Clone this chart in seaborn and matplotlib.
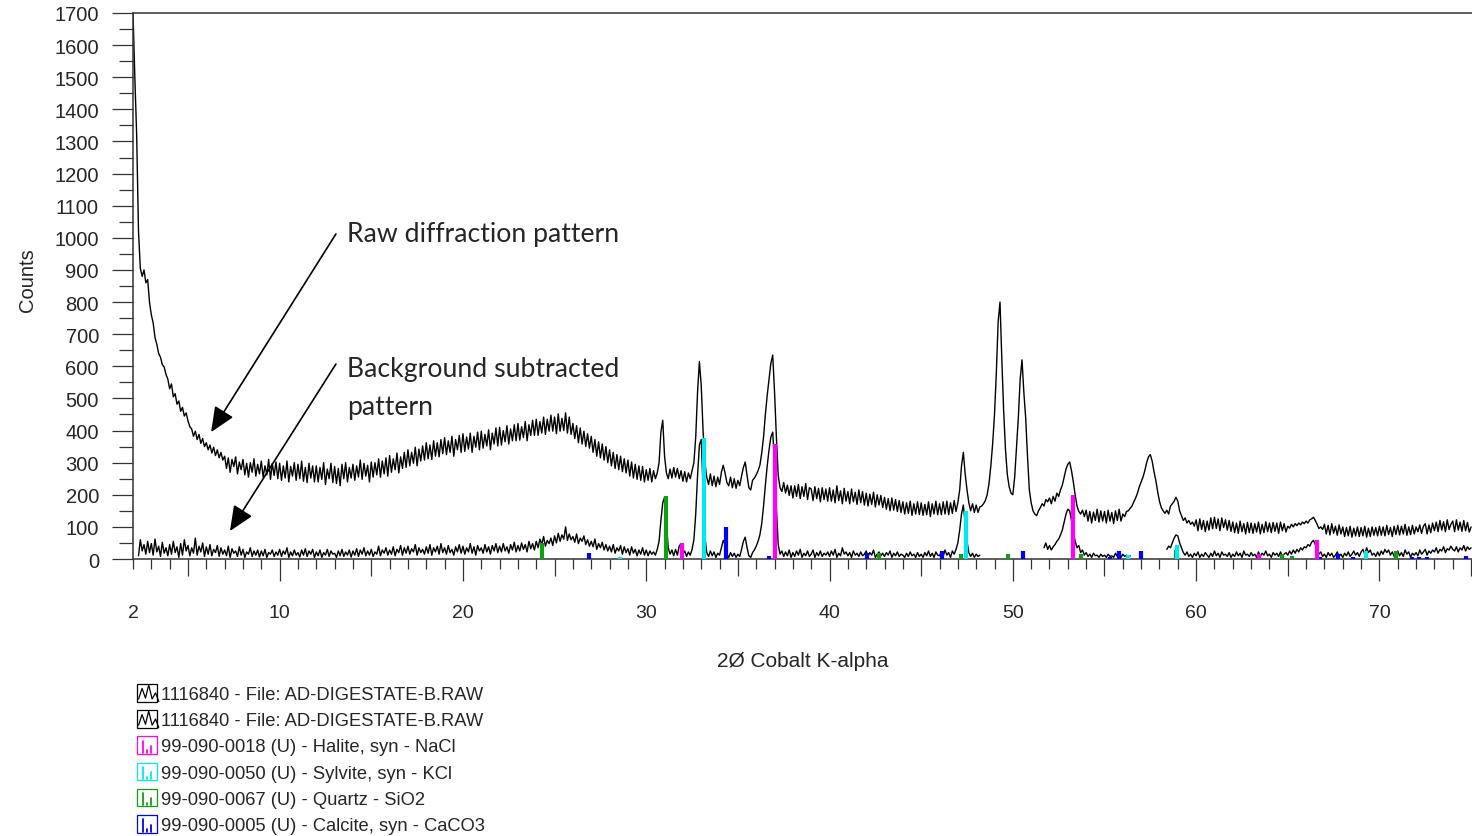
import numpy as np
import pandas as pd
import seaborn as sns
import matplotlib.pyplot as plt
from matplotlib.legend_handler import HandlerBase
from matplotlib.patches import Rectangle
from matplotlib.lines import Line2D
from matplotlib.transforms import Bbox

# 2-theta grid of the scan (0.1 deg steps, 2..75)
two_theta = np.round(np.arange(2.0, 75.001, 0.1), 1)

# raw diffraction pattern, one row per degree (.0 .. .9)
raw_counts = [
    1700, 1500, 1320, 1020, 905, 880, 900, 860, 870, 800,        # 2
    760, 735, 690, 668, 640, 628, 605, 598, 575, 560,            # 3
    530, 545, 505, 515, 482, 492, 460, 472, 445, 455,            # 4
    430, 412, 405, 382, 398, 372, 388, 360, 375, 350,            # 5
    362, 340, 355, 330, 348, 322, 340, 315, 332, 308,            # 6
    320, 282, 315, 270, 310, 288, 318, 265, 302, 278,            # 7
    310, 262, 298, 255, 300, 270, 312, 258, 295, 265,            # 8
    305, 255, 290, 262, 310, 248, 298, 260, 302, 250,            # 9
    298, 245, 290, 252, 305, 240, 288, 258, 300, 245,            # 10
    295, 250, 305, 242, 285, 238, 298, 252, 290, 240,            # 11
    290, 240, 285, 248, 300, 232, 280, 250, 298, 238,            # 12
    288, 235, 282, 228, 295, 250, 300, 240, 285, 252,            # 13
    295, 245, 290, 255, 308, 248, 298, 258, 292, 240,            # 14
    302, 255, 300, 262, 312, 255, 305, 265, 315, 258,            # 15
    322, 270, 312, 278, 330, 268, 318, 282, 332, 285,            # 16
    340, 290, 332, 298, 348, 290, 342, 305, 352, 308,            # 17
    362, 312, 355, 310, 368, 320, 362, 318, 372, 328,            # 18
    378, 325, 368, 332, 382, 320, 372, 340, 385, 332,            # 19
    390, 335, 380, 342, 392, 332, 382, 348, 395, 340,            # 20
    398, 345, 388, 352, 402, 340, 392, 358, 408, 352,            # 21
    410, 355, 400, 365, 415, 358, 405, 368, 418, 368,            # 22
    422, 370, 412, 378, 428, 368, 418, 385, 432, 385,            # 23
    435, 385, 428, 392, 442, 388, 435, 398, 448, 398,            # 24
    442, 390, 452, 398, 438, 400, 455, 392, 442, 388,            # 25
    422, 375, 415, 362, 408, 358, 398, 350, 390, 345,            # 26
    382, 332, 372, 320, 365, 315, 358, 308, 350, 300,            # 27
    340, 290, 332, 282, 325, 278, 320, 272, 312, 268,            # 28
    308, 258, 302, 252, 295, 248, 290, 245, 288, 240,            # 29
    278, 245, 282, 240, 275, 250, 268, 300, 395, 432,            # 30
    320, 268, 250, 280, 252, 285, 255, 282, 250, 275,            # 31
    242, 272, 240, 268, 250, 275, 300, 380, 520, 615,            # 32
    540, 400, 300, 255, 232, 265, 228, 258, 225, 255,            # 33
    232, 270, 292, 268, 238, 228, 255, 222, 250, 220,            # 34
    245, 228, 258, 285, 302, 260, 222, 215, 245, 252,            # 35
    262, 275, 292, 330, 380, 450, 510, 560, 610, 635,            # 36
    520, 380, 260, 222, 210, 238, 205, 230, 198, 228,            # 37
    190, 228, 195, 232, 188, 225, 195, 235, 185, 222,            # 38
    218, 182, 225, 188, 220, 178, 222, 185, 218, 180,            # 39
    222, 180, 215, 175, 228, 182, 212, 172, 220, 180,            # 40
    210, 172, 218, 178, 208, 170, 215, 175, 210, 168,            # 41
    205, 165, 202, 170, 208, 162, 200, 168, 198, 160,            # 42
    192, 155, 188, 150, 190, 152, 185, 148, 182, 145,            # 43
    178, 140, 175, 142, 180, 136, 172, 140, 178, 138,            # 44
    175, 136, 170, 138, 178, 132, 172, 140, 180, 138,            # 45
    172, 138, 178, 140, 180, 138, 175, 142, 182, 148,            # 46
    175, 215, 290, 332, 265, 215, 175, 150, 172, 145,            # 47
    168, 145, 162, 165, 172, 182, 200, 235, 290, 360,            # 48
    450, 580, 740, 800, 620, 460, 340, 262, 225, 205,            # 49
    200, 255, 350, 440, 560, 620, 520, 440, 320, 215,            # 50
    175, 150, 140, 135, 150, 160, 172, 165, 185, 178,            # 51
    190, 172, 195, 180, 205, 195, 215, 230, 255, 280,            # 52
    295, 302, 275, 240, 200, 165, 148, 140, 152, 132,            # 53
    152, 118, 148, 112, 146, 120, 155, 115, 150, 118,            # 54
    148, 112, 152, 118, 145, 110, 150, 120, 155, 118,            # 55
    140, 132, 148, 150, 158, 165, 178, 190, 205, 225,            # 56
    240, 255, 275, 300, 318, 325, 305, 272, 245, 210,            # 57
    180, 160, 150, 142, 152, 140, 165, 172, 180, 192,            # 58
    180, 150, 135, 120, 128, 112, 120, 108, 115, 102,            # 59
    122, 88, 125, 92, 120, 85, 118, 90, 128, 94,                 # 60
    130, 95, 125, 88, 128, 98, 122, 90, 120, 86,                 # 61
    115, 82, 112, 80, 118, 85, 110, 78, 114, 82,                 # 62
    112, 80, 110, 84, 115, 78, 108, 82, 116, 85,                 # 63
    112, 82, 114, 86, 112, 80, 115, 88, 110, 84,                 # 64
    102, 96, 108, 100, 110, 104, 112, 106, 115, 110,             # 65
    118, 112, 122, 125, 130, 120, 108, 95, 100, 92,              # 66
    108, 78, 105, 75, 110, 80, 102, 74, 106, 78,                 # 67
    100, 70, 98, 72, 102, 68, 96, 72, 100, 70,                   # 68
    98, 72, 102, 68, 96, 70, 100, 74, 98, 72,                    # 69
    102, 74, 100, 72, 105, 76, 98, 70, 102, 76,                  # 70
    105, 75, 102, 78, 108, 74, 100, 76, 105, 78,                 # 71
    100, 85, 106, 80, 102, 110, 78, 106, 82, 112,                # 72
    88, 115, 85, 120, 90, 116, 85, 122, 92, 108,                 # 73
    118, 85, 122, 90, 115, 86, 120, 88, 114, 84,                 # 74
    100,                                                         # 75
]

nan = np.nan
# background subtracted pattern (gaps where the software left it out)
sub_counts = [
    nan, nan, nan, 10, 60, 25, 45, 15, 55, 20,                   # 2
    48, 12, 62, 22, 40, 8, 52, 18, 35, 10,                       # 3
    45, 15, 55, 20, 38, 5, 48, 12, 60, 25,                       # 4
    42, 10, 35, 18, 65, 12, 40, 22, 50, 8,                       # 5
    38, 15, 45, 10, 30, 20, 42, 8, 35, 15,                       # 6
    28, 10, 40, 5, 32, 18, 25, 8, 38, 12,                        # 7
    30, 5, 22, 15, 35, 8, 25, 12, 28, 6,                         # 8
    25, 10, 30, 5, 20, 15, 28, 8, 22, 12,                        # 9
    30, 8, 25, 15, 35, 5, 22, 10, 28, 12,                        # 10
    20, 6, 28, 12, 32, 8, 25, 15, 30, 5,                         # 11
    22, 10, 28, 5, 20, 12, 30, 8, 25, 15,                        # 12
    18, 5, 25, 10, 30, 8, 22, 12, 28, 6,                         # 13
    25, 12, 32, 8, 28, 15, 35, 10, 25, 12,                       # 14
    30, 8, 22, 15, 40, 10, 28, 18, 35, 12,                       # 15
    28, 15, 38, 10, 30, 20, 42, 12, 35, 18,                      # 16
    40, 15, 32, 22, 45, 12, 35, 20, 30, 15,                      # 17
    38, 18, 45, 12, 35, 22, 40, 15, 48, 20,                      # 18
    35, 15, 42, 20, 30, 12, 38, 22, 45, 18,                      # 19
    40, 15, 35, 22, 48, 18, 38, 12, 42, 25,                      # 20
    35, 18, 45, 22, 38, 15, 42, 25, 48, 20,                      # 21
    40, 22, 48, 25, 38, 18, 45, 28, 52, 22,                      # 22
    42, 25, 50, 30, 45, 22, 55, 32, 48, 28,                      # 23
    55, 35, 62, 45, 70, 40, 58, 48, 65, 42,                      # 24
    72, 50, 80, 55, 75, 62, 100, 58, 78, 60,                     # 25
    70, 52, 78, 48, 65, 55, 72, 45, 60, 40,                      # 26
    55, 38, 62, 30, 48, 35, 52, 28, 45, 25,                      # 27
    40, 22, 45, 18, 35, 25, 42, 15, 38, 20,                      # 28
    32, 12, 38, 18, 30, 10, 28, 15, 35, 12,                      # 29
    28, 10, 25, 15, 22, 12, 30, 55, 120, 175,                    # 30
    192, 110, 35, 15, 28, 10, 30, 12, 40, 48,                    # 31
    15, 25, 8, 22, 12, 30, 60, 140, 260, 355,                    # 32
    372, 220, 70, 20, 8, 25, 10, 22, 5, 18,                      # 33
    12, 35, 58, 45, 15, 5, 20, 8, 18, 5,                         # 34
    15, 8, 30, 55, 68, 35, 10, 5, 20, 28,                        # 35
    40, 55, 75, 110, 165, 230, 290, 340, 380, 395,               # 36
    300, 160, 45, 15, 25, 8, 22, 10, 28, 5,                      # 37
    20, 8, 25, 12, 30, 5, 18, 10, 25, 8,                         # 38
    15, 28, 5, 20, 10, 25, 8, 18, 12, 22,                        # 39
    8, 25, 12, 30, 5, 18, 10, 35, 15, 22,                        # 40
    10, 20, 5, 25, 12, 18, 8, 22, 10, 15,                        # 41
    25, 8, 20, 12, 28, 5, 15, 22, 10, 18,                        # 42
    8, 20, 12, 25, 5, 18, 10, 22, 8, 15,                         # 43
    12, 5, 18, 8, 22, 10, 15, 5, 20, 8,                          # 44
    15, 5, 20, 10, 25, 8, 18, 5, 22, 12,                         # 45
    10, 22, 8, 28, 12, 20, 5, 25, 15, 30,                        # 46
    50, 90, 140, 168, 110, 55, 20, 8, 18, 5,                     # 47
    15, 8, 12, nan, nan, nan, nan, nan, nan, nan,                # 48
    nan, nan, nan, nan, nan, nan, nan, nan, nan, nan,            # 49
    nan, nan, nan, nan, nan, nan, nan, nan, nan, nan,            # 50
    nan, nan, nan, nan, nan, nan, nan, 35, 50, 30,               # 51
    42, 28, 38, 45, 55, 62, 75, 90, 115, 140,                    # 52
    155, 150, 120, 85, 55, 35, 42, 20, 28, 12,                   # 53
    20, 8, 15, 5, 18, 10, 12, 5, 15, 8,                          # 54
    12, 5, 15, 8, 10, 5, 18, 8, 12, 5,                           # 55
    15, 8, 12, 5, 10, nan, nan, nan, nan, nan,                   # 56
    nan, nan, nan, nan, nan, nan, nan, nan, nan, nan,            # 57
    nan, nan, nan, nan, 30, 40, 35, 50, 65, 75,                  # 58
    72, 50, 35, 20, 12, 22, 8, 15, 5, 18,                        # 59
    10, 22, 5, 15, 8, 20, 12, 5, 18, 8,                          # 60
    25, 10, 18, 5, 22, 12, 15, 8, 20, 5,                         # 61
    15, 8, 22, 10, 18, 5, 25, 12, 15, 8,                         # 62
    20, 10, 15, 5, 22, 8, 18, 12, 25, 10,                        # 63
    15, 5, 20, 12, 18, 8, 22, 10, 15, 20,                        # 64
    12, 25, 15, 28, 18, 30, 22, 35, 28, 38,                      # 65
    35, 45, 40, 52, 58, 45, 30, 15, 22, 8,                       # 66
    15, 5, 20, 10, 18, 5, 12, 22, 8, 15,                         # 67
    5, 18, 10, 22, 8, 15, 25, 12, 20, 8,                         # 68
    22, 30, 15, 35, 20, 28, 12, 18, 8, 22,                       # 69
    10, 25, 15, 30, 20, 28, 12, 22, 8, 18,                       # 70
    25, 10, 20, 8, 28, 15, 22, 5, 18, 12,                        # 71
    20, 10, 28, 15, 22, 30, 12, 25, 18, 28,                      # 72
    22, 35, 18, 30, 25, 38, 20, 32, 28, 40,                      # 73
    30, 25, 38, 22, 35, 28, 42, 25, 38, 30,                      # 74
    35,                                                          # 75
]

# reference stick patterns (position, intensity)
halite_pos = [31.93, 37.02, 53.3, 63.41, 66.61]
halite_int = [50, 357, 200, 15, 58]
sylvite_pos = [28.57, 33.15, 47.43, 56.3, 58.97, 69.27]
sylvite_int = [6, 377, 148, 12, 45, 25]
quartz_pos = [24.33, 31.09, 42.71, 47.16, 49.72, 53.74, 58.92, 64.67,
              65.21, 70.89]
quartz_int = [50, 196, 20, 15, 15, 15, 29, 15, 9, 26]
calcite_pos = [26.89, 34.35, 36.71, 42.06, 46.15, 50.54, 55.3, 55.78,
               56.99, 66.76, 67.76, 68.57, 71.79, 72.17, 72.59, 74.72]
calcite_int = [18, 100, 8, 18, 26, 25, 5, 25, 25, 5, 15, 5, 5, 5, 5, 8]

legend_labels = [
    "1116840 - File: AD-DIGESTATE-B.RAW",
    "1116840 - File: AD-DIGESTATE-B.RAW",
    "99-090-0018 (U) - Halite, syn - NaCl",
    "99-090-0050 (U) - Sylvite, syn - KCl",
    "99-090-0067 (U) - Quartz - SiO2",
    "99-090-0005 (U) - Calcite, syn - CaCO3",
]

assert len(raw_counts) == len(two_theta) == len(sub_counts)

MAGENTA, CYAN, GREEN, BLUE = "#ff00ff", "#00e8f0", "#109f10", "#0000ff"


class PatternIcon:
    def __init__(self, color, kind):
        self.color = color
        self.kind = kind


class IconHandler(HandlerBase):
    def create_artists(self, legend, orig_handle, xdescent, ydescent,
                       width, height, fontsize, trans):
        x0, y0 = -xdescent, -ydescent
        c = orig_handle.color
        arts = [Rectangle((x0, y0), width, height, fill=False, edgecolor=c,
                          linewidth=0.9, transform=trans)]
        if orig_handle.kind == "scan":
            fx = [0.08, 0.25, 0.42, 0.58, 0.75, 0.92, 1.08]
            fy = [0.15, 0.75, 0.2, 0.95, 0.15, 0.5, 0.0]
            arts.append(Line2D([x0 + f * width for f in fx],
                               [y0 + f * height for f in fy],
                               color="black", lw=0.9, transform=trans))
        else:
            for sx, sh in [(0.3, 0.75), (0.5, 0.2), (0.7, 0.45)]:
                arts.append(Line2D([x0 + sx * width] * 2,
                                   [y0 + 0.05 * height, y0 + sh * height],
                                   color=c, lw=1.3, transform=trans))
        return arts


sns.set_style("ticks")
plt.rcParams["font.family"] = ["Liberation Sans", "DejaVu Sans"]

W, H = 1472, 837
fig = plt.figure(figsize=(W / 100, H / 100), dpi=100)
ax = fig.add_axes([133 / W, (H - 560) / H, 1 - 133 / W, (560 - 14) / H])

raw_df = pd.DataFrame({"two_theta": two_theta, "counts": raw_counts})
sub_df = pd.DataFrame({"two_theta": two_theta, "counts": sub_counts})
sub_df["seg"] = sub_df["counts"].isna().cumsum()
sub_df = sub_df.dropna()

sns.lineplot(data=raw_df, x="two_theta", y="counts", color="black",
             linewidth=1.0, ax=ax, sort=False)
sns.lineplot(data=sub_df, x="two_theta", y="counts", units="seg",
             estimator=None, color="black", linewidth=1.0, ax=ax, sort=False)

for pos, inten, col in [(quartz_pos, quartz_int, GREEN),
                        (calcite_pos, calcite_int, BLUE),
                        (sylvite_pos, sylvite_int, CYAN),
                        (halite_pos, halite_int, MAGENTA)]:
    ax.vlines(pos, 0, inten, colors=col, linewidth=3, zorder=3)

ax.set_xlim(2, 75.05)
ax.set_ylim(0, 1700)

# ticks
major_x = [2, 10, 20, 30, 40, 50, 60, 70]
minor_x = [i for i in range(3, 76) if i % 10 != 0]
ax.set_xticks(major_x)
ax.set_xticklabels([str(v) for v in major_x])
ax.set_xticks(minor_x, minor=True)
ax.set_yticks(range(0, 1701, 100))
ax.set_yticks(range(50, 1700, 100), minor=True)

ax.tick_params(axis="x", which="major", length=15.8, width=0.9, pad=16.5,
               labelsize=14, color="#333333", direction="out")
ax.tick_params(axis="x", which="minor", length=7.2, width=0.9,
               color="#333333", direction="out")
ax.tick_params(axis="y", which="major", length=15.1, width=0.9, pad=9.4,
               labelsize=14.5, color="#333333", direction="out")
ax.tick_params(axis="y", which="minor", length=10, width=0.9,
               color="#333333", direction="out")

ax.xaxis.get_major_ticks()[0].tick1line.set_markersize(7.2)
for tk, loc in zip(ax.xaxis.get_minor_ticks(), minor_x):
    if loc % 5 == 0:
        tk.tick1line.set_markersize(12.2)

for side in ["left", "top", "bottom"]:
    ax.spines[side].set_visible(True)
    ax.spines[side].set_color("#333333")
    ax.spines[side].set_linewidth(1.1)
ax.spines["right"].set_visible(False)

ax.set_xlabel("2Ø Cobalt K-alpha", fontsize=15, labelpad=22)
ax.set_ylabel("")

ylab = fig.text(37 / W, 1 - 280 / H, "Counts", rotation=90, ha="right",
                va="center", fontsize=14.5)
ylab.set_clip_box(Bbox([[17, 0], [80, H]]))
ylab.set_clip_on(True)

# annotations
arrow_kw = dict(arrowstyle="-|>,head_length=0.55,head_width=0.24",
                color="black", lw=1.2, mutation_scale=28,
                shrinkA=0, shrinkB=0)
ax.annotate("", xy=(6.26, 395), xytext=(13.07, 1012), arrowprops=arrow_kw)
ax.annotate("", xy=(7.29, 87), xytext=(13.07, 607), arrowprops=arrow_kw)
ax.text(13.67, 990, "Raw diffraction pattern", family="Lato",
        fontsize=19.2, va="baseline", ha="left")
ax.text(13.67, 570, "Background subtracted", family="Lato",
        fontsize=19.2, va="baseline", ha="left")
ax.text(13.67, 451, "pattern", family="Lato",
        fontsize=19.2, va="baseline", ha="left")

handles = [PatternIcon("black", "scan"), PatternIcon("black", "scan"),
           PatternIcon(MAGENTA, "stick"), PatternIcon(CYAN, "stick"),
           PatternIcon(GREEN, "stick"), PatternIcon(BLUE, "stick")]
fig.legend(handles, legend_labels, handler_map={PatternIcon: IconHandler()},
           loc="upper left", bbox_to_anchor=(137 / W, 1 - 685 / H),
           frameon=False, fontsize=13.2, handlelength=1.1, handleheight=1.1,
           handletextpad=0.2, labelspacing=0.39, borderpad=0,
           borderaxespad=0)

fig.savefig("out.png", dpi=100)
